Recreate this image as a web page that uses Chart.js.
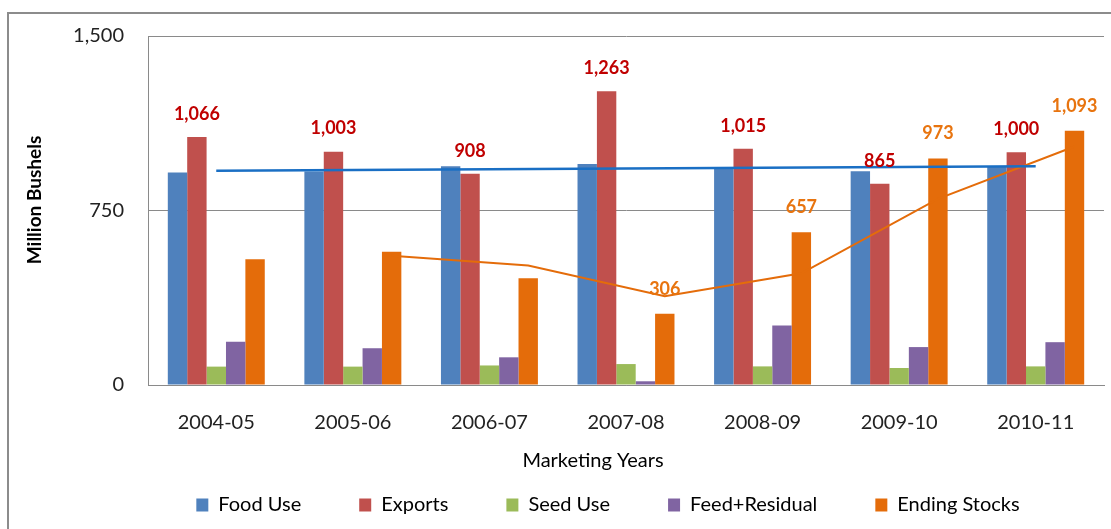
<!DOCTYPE html>
<html>
<head>
<meta charset="utf-8">
<script src="https://cdn.jsdelivr.net/npm/chart.js@4.4.0/dist/chart.umd.min.js"></script>
<style>
    html, body { margin: 0; padding: 0; background: #fff; }
    #wrap { position: relative; width: 1111px; height: 529px; overflow: hidden; }
    #frame { position: absolute; left: 7px; top: 12px; width: 1200px; height: 600px; border: 2px solid #8c8c8c; }
    canvas { position: absolute; left: 0; top: 0; }
</style>
</head>
<body>
<div id="wrap">
    <div id="frame"></div>
    <canvas id="mainChart" width="1111" height="529"></canvas>
</div>
<script>
// Datos (millones de bushels)
const years = ['2004-05', '2005-06', '2006-07', '2007-08', '2008-09', '2009-10', '2010-11'];
const foodUse = [913, 918, 940, 950, 933, 919, 940];
const exportsUse = [1066, 1003, 908, 1263, 1015, 865, 1000];
const seedUse = [79, 79, 84, 90, 80, 73, 80];
const feedResidual = [186, 158, 119, 16, 256, 163, 184];
const endingStocks = [541, 573, 459, 306, 657, 973, 1093];
// líneas de tendencia
const foodTrend = [921, null, null, null, null, null, 940];
const stocksAvg = [null, 555, 514, 382, 480, 800, 1025];
const stockLabelYears = ['2007-08', '2008-09', '2009-10', '2010-11'];
const yTicks = [0, 750, 1500];

const FONT = 'Lato, "Open Sans", sans-serif';
const CAT_PCT = 0.71;
const stockOffset = 2 * CAT_PCT / 5; // centro de la barra "Ending Stocks" (en categorías)

const valueLabels = {
    id: 'valueLabels',
    afterDatasetsDraw(chart) {
        const ctx = chart.ctx;
        ctx.save();
        ctx.font = 'bold 18px ' + FONT;
        ctx.textAlign = 'center';
        ctx.textBaseline = 'middle';
        chart.data.datasets.forEach((ds, di) => {
            if (!ds.valueLabel) return;
            const meta = chart.getDatasetMeta(di);
            meta.data.forEach((bar, i) => {
                if (!ds.valueLabel.show(i)) return;
                ctx.fillStyle = ds.valueLabel.color;
                ctx.fillText(ds.data[i].toLocaleString('en-US'), bar.x, bar.y - ds.valueLabel.gap);
            });
        });
        ctx.restore();
    }
};

// desplaza la media móvil hasta la barra de existencias
const lineShift = {
    id: 'lineShift',
    beforeDatasetDraw(chart, args) {
        const ds = chart.data.datasets[args.index];
        if (!ds.catShift) return;
        const catWidth = chart.scales.x.width / years.length;
        chart.ctx.save();
        chart.ctx.translate(ds.catShift * catWidth, 0);
    },
    afterDatasetDraw(chart, args) {
        if (chart.data.datasets[args.index].catShift) chart.ctx.restore();
    }
};

const axisTitles = {
    id: 'axisTitles',
    afterDraw(chart) {
        const ctx = chart.ctx;
        ctx.save();
        ctx.fillStyle = '#000';
        ctx.textAlign = 'center';
        ctx.textBaseline = 'middle';
        ctx.font = '20px ' + FONT;
        ctx.fillText('Marketing Years', 593, 461);
        ctx.translate(35, 200);
        ctx.rotate(-Math.PI / 2);
        ctx.font = 'bold 19px ' + FONT;
        ctx.fillText('Million Bushels', 0, 0);
        ctx.restore();
    }
};

const legendShift = {
    id: 'legendShift',
    afterLayout(chart) {
        chart.legend.left += 56;
        chart.legend.right += 56;
    }
};

const barSet = (label, data, color, extra) => Object.assign({
    type: 'bar', label, data, backgroundColor: color, borderWidth: 0,
    categoryPercentage: CAT_PCT, barPercentage: 1.0
}, extra || {});

const ctx = document.getElementById('mainChart').getContext('2d');
new Chart(ctx, {
    type: 'bar',
    data: {
        labels: years,
        datasets: [
            barSet('Food Use', foodUse, '#4F81BD'),
            barSet('Exports', exportsUse, '#C0504D', {
                valueLabel: { color: '#C00000', gap: 23, show: () => true }
            }),
            barSet('Seed Use', seedUse, '#9BBB59'),
            barSet('Feed+Residual', feedResidual, '#8064A2'),
            barSet('Ending Stocks', endingStocks, '#E46C0A', {
                valueLabel: { color: '#E8740F', gap: 25, show: i => stockLabelYears.includes(years[i]) }
            }),
            {
                type: 'line',
                label: 'Food trend',
                data: foodTrend,
                borderColor: '#1A6FC4',
                borderWidth: 2.5,
                pointRadius: 0,
                spanGaps: true,
                order: -1
            },
            {
                type: 'line',
                label: 'Stocks avg',
                data: stocksAvg,
                catShift: stockOffset,
                borderColor: '#E46C0A',
                borderWidth: 2,
                pointRadius: 0,
                order: -1
            }
        ]
    },
    options: {
        responsive: false,
        animation: false,
        layout: { padding: { top: 33, right: 7, bottom: 4, left: 0 } },
        scales: {
            x: {
                offset: true,
                grid: { display: false },
                border: { display: true, color: '#8a8a8a' },
                ticks: { color: '#222', font: { family: FONT, size: 20 }, padding: 18, maxRotation: 0 },
                afterFit(scale) { scale.height = 52; }
            },
            y: {
                min: 0,
                max: 1500,
                afterBuildTicks(scale) { scale.ticks = yTicks.map(v => ({ value: v })); },
                grid: { color: '#8a8a8a', drawTicks: false },
                border: { color: '#8a8a8a' },
                ticks: {
                    color: '#222',
                    font: { family: FONT, size: 20 },
                    padding: 24,
                    callback: v => v.toLocaleString('en-US')
                },
                afterFit(scale) { scale.width = 148; }
            }
        },
        plugins: {
            legend: {
                position: 'bottom',
                labels: {
                    color: '#000',
                    boxWidth: 12,
                    boxHeight: 13,
                    padding: 58,
                    font: { family: FONT, size: 20 },
                    filter: item => item.datasetIndex < 5
                }
            },
            tooltip: { enabled: false }
        }
    },
    plugins: [valueLabels, lineShift, axisTitles, legendShift]
});
</script>
</body>
</html>
